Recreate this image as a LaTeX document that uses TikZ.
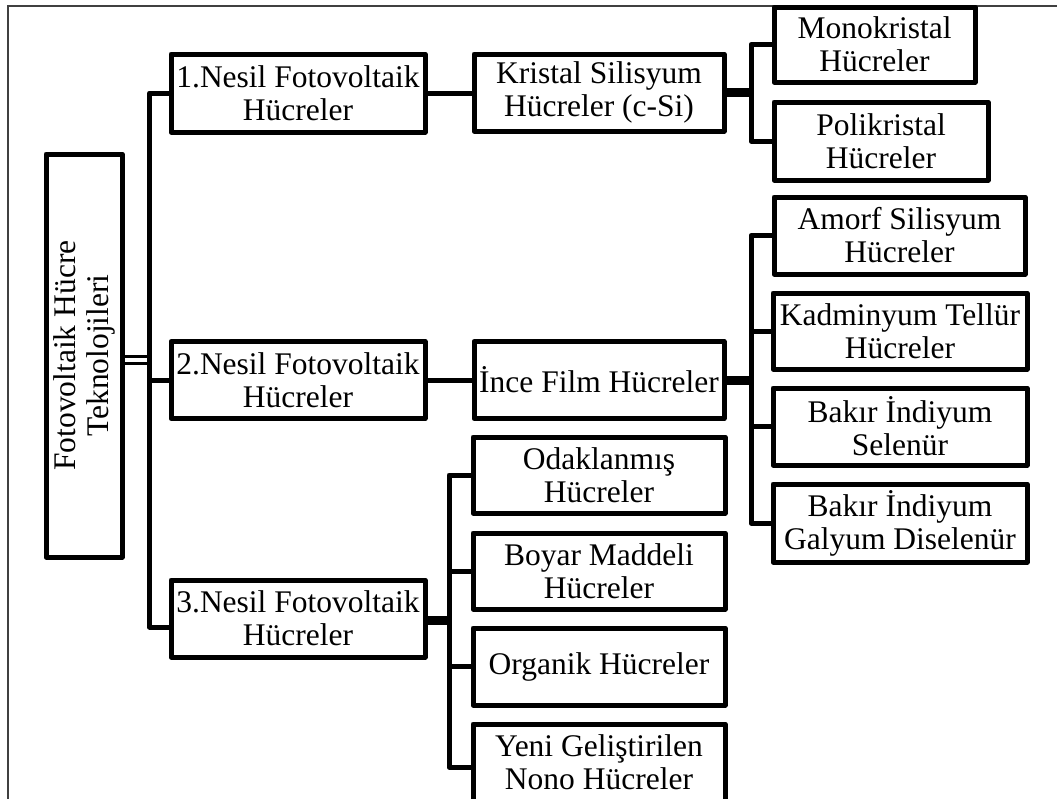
\documentclass[tikz,border=0pt]{standalone}
\usepackage{fontspec}
\setmainfont{Liberation Serif}
\begin{document}
\begin{tikzpicture}[x=1pt,y=-1pt,
  box/.style={draw, line width=5pt, line join=round, inner sep=0pt, align=center,
    font=\fontsize{31.5}{33}\selectfont},
  conn/.style={line width=5pt, line join=round},
  fat/.style={line width=9pt},
  dbl/.style={line width=3pt},
  frame/.style={line width=1.5pt, black!75}
]
\useasboundingbox (0,0) rectangle (1057,798);
\clip (0,0) rectangle (1057,798);
\draw[frame] (8,800) -- (8,6) -- (1060,6);

% nodes
\node[box, rotate=90, minimum width=403, minimum height=76] (root) at (84,355.5) {Fotovoltaik Hücre\\Teknolojileri};
\node[box, minimum width=254, minimum height=78] (n1) at (298,93) {1.Nesil Fotovoltaik\\Hücreler};
\node[box, minimum width=254, minimum height=77] (n2) at (298,380) {2.Nesil Fotovoltaik\\Hücreler};
\node[box, minimum width=254, minimum height=77] (n3) at (298,618.5) {3.Nesil Fotovoltaik\\Hücreler};
\node[box, minimum width=250, minimum height=77] (ks) at (599,92.5) {Kristal Silisyum\\Hücreler (c-Si)};
\node[box, minimum width=250, minimum height=77] (ince) at (599,380) {İnce Film Hücreler};
\node[box, minimum width=201, minimum height=75] (mono) at (874.5,44.5) {Monokristal\\Hücreler};
\node[box, minimum width=214, minimum height=78] (poli) at (881,141) {Polikristal\\Hücreler};
\node[box, minimum width=251, minimum height=77] (amorf) at (899.5,235.5) {Amorf Silisyum\\Hücreler};
\node[box, minimum width=254, minimum height=76] (kad) at (900,331) {Kadminyum Tellür\\Hücreler};
\node[box, minimum width=254, minimum height=77] (bis) at (900,426.5) {Bakır İndiyum\\Selenür};
\node[box, minimum width=254, minimum height=78] (bigd) at (900,523) {Bakır İndiyum\\Galyum Diselenür};
\node[box, minimum width=252, minimum height=76] (odak) at (599,475) {Odaklanmış\\Hücreler};
\node[box, minimum width=252, minimum height=76] (boyar) at (599,571) {Boyar Maddeli\\Hücreler};
\node[box, minimum width=252, minimum height=77] (org) at (599,666.5) {Organik Hücreler};
\node[box, minimum width=252, minimum height=77] (yeni) at (599,762.5) {Yeni Geliştirilen\\Nono Hücreler};

% connector points
\coordinate (ta) at (149.5,356.5);
\coordinate (tb) at (149.5,363.5);
\coordinate (tr) at (149.5,380);
\coordinate (t3) at (149.5,627);
\coordinate (b1) at (751,92.5);
\coordinate (b2) at (751,380);
\coordinate (b3) at (449,620);
\coordinate (y3) at (449,767);

% connectors
\draw[dbl] (root.south |- ta) -- (ta);
\draw[dbl] (root.south |- tb) -- (tb);
\draw[conn] (n1.west) -| (t3) -- (n3.west |- t3);
\draw[conn] (tr) -- (n2.west);
\draw[conn] (n1.east) -- (n1.east -| ks.west);
\draw[conn] (n2.east) -- (ince.west);
\draw[fat] (ks.east) -- (b1);
\draw[conn] (mono.west) -| (b1) |- (poli.west);
\draw[fat] (ince.east) -- (b2);
\draw[conn] (amorf.west) -| (b2) |- (bigd.west);
\draw[conn] (kad.west) -- (kad.west -| b2);
\draw[conn] (bis.west) -- (bis.west -| b2);
\draw[fat] (n3.east |- b3) -- (b3);
\draw[conn] (odak.west) -| (b3) |- (yeni.west |- y3);
\draw[conn] (boyar.west) -- (boyar.west -| b3);
\draw[conn] (org.west) -- (org.west -| b3);
\end{tikzpicture}
\end{document}
